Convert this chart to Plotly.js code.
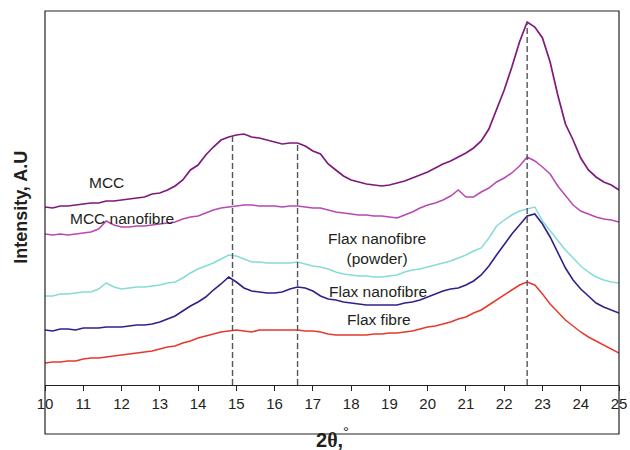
<!DOCTYPE html>
<html>
<head>
<meta charset="utf-8">
<script src="https://cdn.plot.ly/plotly-3.0.1.min.js"></script>
<style>
  html, body { margin: 0; padding: 0; background: #fff; }
  #chart { width: 630px; height: 450px; }
</style>
</head>
<body>
<div id="chart"></div>
<script>
// Diffraction angle 2θ (degrees)
const twoTheta = [10,10.2,10.4,10.6,10.8,11,11.2,11.4,11.6,11.8,12,12.2,12.4,12.6,12.8,13,13.2,13.4,13.6,13.8,
  14,14.2,14.4,14.6,14.8,15,15.2,15.4,15.6,15.8,16,16.2,16.4,16.6,16.8,17,17.2,17.4,17.6,17.8,
  18,18.2,18.4,18.6,18.8,19,19.2,19.4,19.6,19.8,20,20.2,20.4,20.6,20.8,21,21.2,21.4,21.6,21.8,
  22,22.2,22.4,22.6,22.8,23,23.2,23.4,23.6,23.8,24,24.2,24.4,24.6,24.8,25];

// Intensity (arbitrary units, patterns stacked with offsets)
const mcc = [178,177,179,179,180,181,182,182,184,184,185,186,187,188,191,192,195,199,205,215,
  220,230,238,245,248,250,251,248,247,245,243,241,242,242,239,234,231,221,215,209,
  205,203,201,200,199,200,202,204,207,210,213,217,221,224,228,232,237,244,256,275,
  295,318,343,363,358,347,323,290,261,245,227,215,208,203,200,195];

const mccNanofibre = [151,150,151,150,151,152,153,156,164,160,158,158,159,159,160,161,162,163,166,168,
  169,172,175,177,178,179,180,180,179,179,179,178,179,179,178,177,177,175,173,172,
  171,170,170,169,169,168,167,170,173,177,180,182,185,189,195,188,188,193,197,203,
  207,212,219,228,224,218,211,199,189,180,174,171,168,166,165,163];

const flaxNanofibrePowder = [89,89,91,91,92,93,93,96,102,98,96,97,98,98,99,100,102,103,107,112,
  116,119,122,126,130,129,126,123,123,122,122,122,122,123,121,119,118,116,113,111,
  110,109,109,108,108,109,110,113,115,116,118,120,122,124,127,130,134,137,147,159,
  165,170,174,176,178,164,154,145,135,127,119,113,108,105,103,102];

const flaxNanofibre = [55,54,56,56,55,57,57,57,58,58,58,59,60,60,61,63,66,69,74,79,
  83,88,95,101,108,103,97,94,93,92,92,93,96,98,97,94,89,86,85,83,
  82,81,80,80,80,80,80,82,83,85,88,91,94,96,97,100,104,110,119,130,
  141,151,160,169,171,161,148,132,117,105,96,89,82,78,75,72];

const flaxFibre = [22,23,23,24,24,26,27,27,28,29,30,31,32,33,34,36,38,39,42,44,
  47,49,51,53,54,55,54,53,55,55,55,55,55,55,54,54,53,51,50,50,
  50,50,50,51,51,52,52,53,54,56,58,59,61,63,66,68,72,75,80,85,
  90,95,100,103,100,91,81,73,65,59,53,48,44,40,36,32];

// Reflection positions marked with dashed guides (degrees)
const peakPositions = [14.9, 16.6, 22.6];

const seriesNames = ['MCC', 'MCC nanofibre', 'Flax nanofibre (powder)', 'Flax nanofibre', 'Flax fibre'];
const seriesValues = [mcc, mccNanofibre, flaxNanofibrePowder, flaxNanofibre, flaxFibre];
const seriesColors = ['#7e1a7c', '#b848b3', '#86dcd6', '#2e2289', '#e8372c'];
const seriesWidths = [1.7, 1.5, 1.5, 1.6, 1.5];

// Label text and anchor point for each pattern
const labelText = ['MCC', 'MCC nanofibre', 'Flax nanofibre<br>(powder)', 'Flax nanofibre', 'Flax fibre'];
const labelX = [11.62, 12.01, 18.68, 18.70, 18.73];
const labelY = [203, 167, 137, 94, 66];

const traces = seriesValues.map((vals, i) => ({
  type: 'scatter',
  mode: 'lines',
  name: seriesNames[i],
  x: twoTheta,
  y: vals,
  line: { color: seriesColors[i], width: seriesWidths[i] },
  hoverinfo: 'skip'
}));

// Height of the MCC pattern at a given angle (linear between samples)
function mccAt(t) {
  for (let i = 0; i < twoTheta.length - 1; i++) {
    if (t >= twoTheta[i] && t <= twoTheta[i + 1]) {
      const f = (t - twoTheta[i]) / (twoTheta[i + 1] - twoTheta[i]);
      return mcc[i] + f * (mcc[i + 1] - mcc[i]);
    }
  }
  return mcc[mcc.length - 1];
}

const font = "'Liberation Sans', Arial, sans-serif";
const textColor = '#231f20';

const shapes = peakPositions.map(p => ({
  type: 'line', xref: 'x', yref: 'y',
  x0: p, x1: p, y0: 0, y1: mccAt(p),
  line: { color: '#555555', width: 1.4, dash: '6px,3px' },
  layer: 'above'
}));

// Outer frame: runs past the angle axis down around the tick labels
shapes.push({
  type: 'rect', xref: 'paper', yref: 'paper',
  x0: 0, x1: 1, y0: -49 / 374, y1: 1,
  line: { color: '#222222', width: 1.2 },
  fillcolor: 'rgba(0,0,0,0)'
});

const annotations = labelText.map((t, i) => ({
  xref: 'x', yref: 'y', x: labelX[i], y: labelY[i],
  text: t, showarrow: false, xanchor: 'center', yanchor: 'middle',
  font: { family: font, size: 15.5, color: textColor }
}));

annotations.push({
  xref: 'paper', yref: 'paper', x: -0.041, y: 0.475,
  text: '<b>Intensity, A.U</b>', textangle: -90, showarrow: false,
  xanchor: 'center', yanchor: 'middle',
  font: { family: font, size: 18, color: textColor }
});
annotations.push({
  xref: 'paper', yref: 'paper', x: 0.496, y: -0.112,
  text: "<b>2<span style=\"font-family:'Liberation Serif'\">θ</span>,</b>", showarrow: false,
  xanchor: 'center', yanchor: 'top',
  font: { family: font, size: 20, color: textColor }
});
annotations.push({
  xref: 'paper', yref: 'paper', x: 0.524, y: -0.095,
  text: '°', showarrow: false, xanchor: 'center', yanchor: 'top',
  font: { family: font, size: 15, color: textColor }
});

const layout = {
  width: 630, height: 450,
  margin: { l: 45, r: 11, t: 11, b: 65, pad: 0 },
  paper_bgcolor: '#ffffff', plot_bgcolor: '#ffffff',
  showlegend: false,
  xaxis: {
    range: [10, 25], dtick: 1, tick0: 10,
    ticks: 'outside', ticklen: 5, tickwidth: 1, tickcolor: '#222222',
    showline: true, linecolor: '#222222', linewidth: 1.2,
    showgrid: false, zeroline: false,
    tickfont: { family: font, size: 15, color: textColor }
  },
  yaxis: {
    range: [0, 374], showticklabels: false, ticks: '',
    showline: false, showgrid: false, zeroline: false
  },
  shapes: shapes,
  annotations: annotations
};

Plotly.newPlot('chart', traces, layout, { displayModeBar: false, staticPlot: true });
</script>
</body>
</html>
